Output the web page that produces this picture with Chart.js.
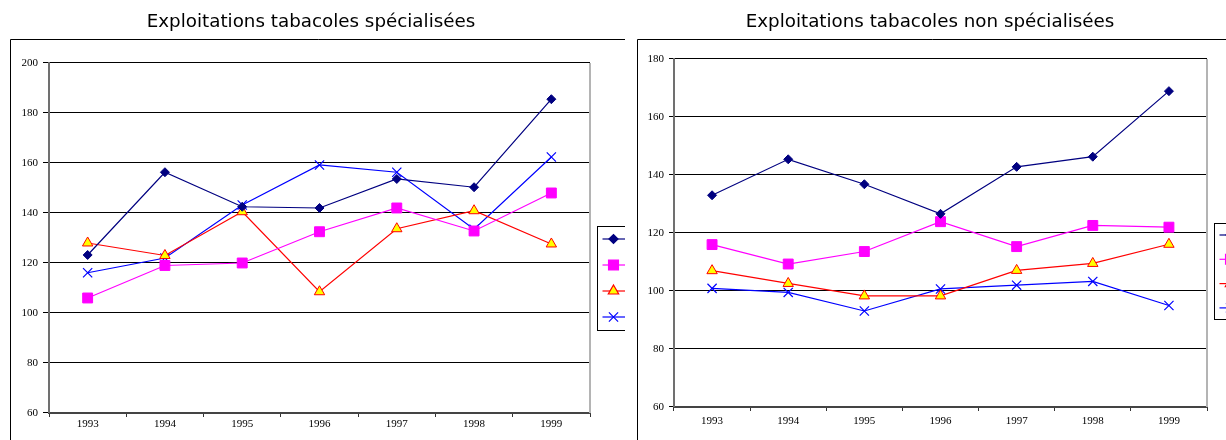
<!DOCTYPE html>
<html>
<head>
<meta charset="utf-8">
<script src="https://cdn.jsdelivr.net/npm/chart.js@4"></script>
<style>
    body { margin: 0; background: #fff; }
    #left { position: absolute; left: 0; top: 0; }
    #right { position: absolute; left: 630px; top: 0; }
</style>
</head>
<body>
<canvas id="left" width="625" height="440"></canvas>
<canvas id="right" width="596" height="440"></canvas>
<script>
const years = ['1993', '1994', '1995', '1996', '1997', '1998', '1999'];

// Exploitations spécialisées
const specNavy = [123.2, 156.3, 142.5, 142, 153.6, 150.3, 185.5];
const specMagenta = [106, 119, 120, 132.5, 142, 132.8, 148];
const specRed = [128, 123, 140.5, 108.5, 133.7, 140.9, 127.6];
const specBlue = [116.1, 122, 143.2, 159.2, 156.3, 133.5, 162.4];

// Exploitations non spécialisées
const nonSpecNavy = [133, 145.4, 136.8, 126.6, 142.8, 146.3, 168.9];
const nonSpecMagenta = [116, 109.3, 113.6, 123.9, 115.3, 122.6, 122];
const nonSpecRed = [107, 102.6, 98.3, 98.3, 107.1, 109.5, 116.1];
const nonSpecBlue = [100.9, 99.5, 93.1, 100.7, 102, 103.3, 95];

const seriesNames = ['Série1', 'Série2', 'Série3', 'Série4'];

function buildDatasets(navy, magenta, red, blue) {
    return [
        { label: seriesNames[0], data: navy, borderColor: '#000080', backgroundColor: '#000080',
          pointStyle: 'rectRot', pointRadius: 4.5, pointBorderWidth: 1 },
        { label: seriesNames[1], data: magenta, borderColor: '#ff00ff', backgroundColor: '#ff00ff',
          pointStyle: 'rect', pointRadius: 7, pointBorderWidth: 1 },
        { label: seriesNames[2], data: red, borderColor: '#ff0000', backgroundColor: '#ffff00',
          pointStyle: 'triangle', pointRadius: 6, pointBorderWidth: 1 },
        { label: seriesNames[3], data: blue, borderColor: '#0000ff', backgroundColor: '#0000ff',
          pointStyle: 'crossRot', pointRadius: 6.5, pointBorderWidth: 1.2 }
    ].map(d => ({ ...d, borderWidth: 1.2, tension: 0, pointHoverRadius: d.pointRadius }));
}

// outer frame (top + left only, the rest is cropped), plot right edge, cropped legend box
const excelDecor = {
    id: 'excelDecor',
    afterLayout(chart, args, opts) {
        // centre the title on the frame, not on the padded area
        if (chart.titleBlock) {
            chart.titleBlock.left = 0;
            chart.titleBlock.right = opts.titleCenter * 2;
        }
    },
    beforeDraw(chart, args, opts) {
        const ctx = chart.ctx;
        ctx.save();
        ctx.strokeStyle = '#000';
        ctx.lineWidth = 1;
        ctx.beginPath();
        ctx.moveTo(opts.frameX + 0.5, chart.height + 5);
        ctx.lineTo(opts.frameX + 0.5, opts.frameY + 0.5);
        ctx.lineTo(chart.width + 5, opts.frameY + 0.5);
        ctx.stroke();
        ctx.restore();
    },
    afterDraw(chart, args, opts) {
        const ctx = chart.ctx;
        const area = chart.chartArea;
        ctx.save();
        ctx.strokeStyle = '#b4b4b4';
        ctx.lineWidth = 2;
        ctx.beginPath();
        ctx.moveTo(area.right, area.top);
        ctx.lineTo(area.right, area.bottom);
        ctx.stroke();

        // legend
        const lx = area.right + 7.5;
        const ly = opts.legendTop + 0.5;
        ctx.strokeStyle = '#000';
        ctx.lineWidth = 1;
        ctx.strokeRect(lx, ly, 80, opts.legendHeight);
        chart.data.datasets.forEach((ds, i) => {
            const y = opts.legendTop + opts.legendFirst + i * opts.legendStep;
            ctx.strokeStyle = ds.borderColor;
            ctx.lineWidth = 1.2;
            ctx.beginPath();
            ctx.moveTo(lx + 5, y);
            ctx.lineTo(lx + 28, y);
            ctx.stroke();
            ctx.fillStyle = ds.backgroundColor;
            Chart.helpers.drawPoint(ctx, {
                pointStyle: ds.pointStyle, radius: ds.pointRadius, rotation: 0,
                borderWidth: ds.pointBorderWidth
            }, lx + 16, y);
        });
        ctx.restore();
    }
};

function makeChart(id, title, datasets, yMin, yMax, cfg) {
    return new Chart(document.getElementById(id), {
        type: 'line',
        data: { labels: years, datasets },
        plugins: [excelDecor],
        options: {
            responsive: false,
            animation: false,
            layout: { padding: { left: 0, right: cfg.padRight, top: 0, bottom: 0 } },
            plugins: {
                legend: { display: false },
                tooltip: { enabled: false },
                title: {
                    display: true,
                    text: title,
                    color: '#000',
                    font: { family: "'DejaVu Sans'", size: 18.3, weight: 'normal' },
                    padding: { top: 11, bottom: cfg.titleBottom }
                },
                excelDecor: cfg.decor
            },
            scales: {
                x: {
                    offset: true,
                    afterFit: (scale) => { scale.height = cfg.xHeight; },
                    grid: { offset: true, drawOnChartArea: false, tickLength: 4, color: '#333', tickColor: '#333' },
                    border: { color: '#444', width: 2 },
                    ticks: { color: '#000', padding: cfg.xPad, maxRotation: 0,
                             font: { family: "'Liberation Serif'", size: 11 } }
                },
                y: {
                    min: yMin,
                    max: yMax,
                    afterFit: (scale) => { scale.width = cfg.yWidth; },
                    grid: { color: '#000', tickColor: '#000', tickLength: cfg.yTick, lineWidth: 1 },
                    border: { color: '#707070', width: 2 },
                    ticks: { stepSize: 20, color: '#000', padding: 5,
                             font: { family: "'Liberation Serif'", size: 11 } }
                }
            }
        }
    });
}

makeChart('left', 'Exploitations tabacoles spécialisées',
    buildDatasets(specNavy, specMagenta, specRed, specBlue), 60, 200, {
        padRight: 35, titleBottom: 30, xHeight: 27, xPad: 1, yWidth: 49, yTick: 6,
        decor: { titleCenter: 311, frameX: 10, frameY: 39, legendTop: 226, legendHeight: 104, legendFirst: 13, legendStep: 26 }
    });

makeChart('right', 'Exploitations tabacoles non spécialisées',
    buildDatasets(nonSpecNavy, nonSpecMagenta, nonSpecRed, nonSpecBlue), 60, 180, {
        padRight: 19, titleBottom: 26, xHeight: 33, xPad: 4, yWidth: 44, yTick: 5,
        decor: { titleCenter: 300, frameX: 7, frameY: 39, legendTop: 223, legendHeight: 96, legendFirst: 12, legendStep: 24.3 }
    });
</script>
</body>
</html>
